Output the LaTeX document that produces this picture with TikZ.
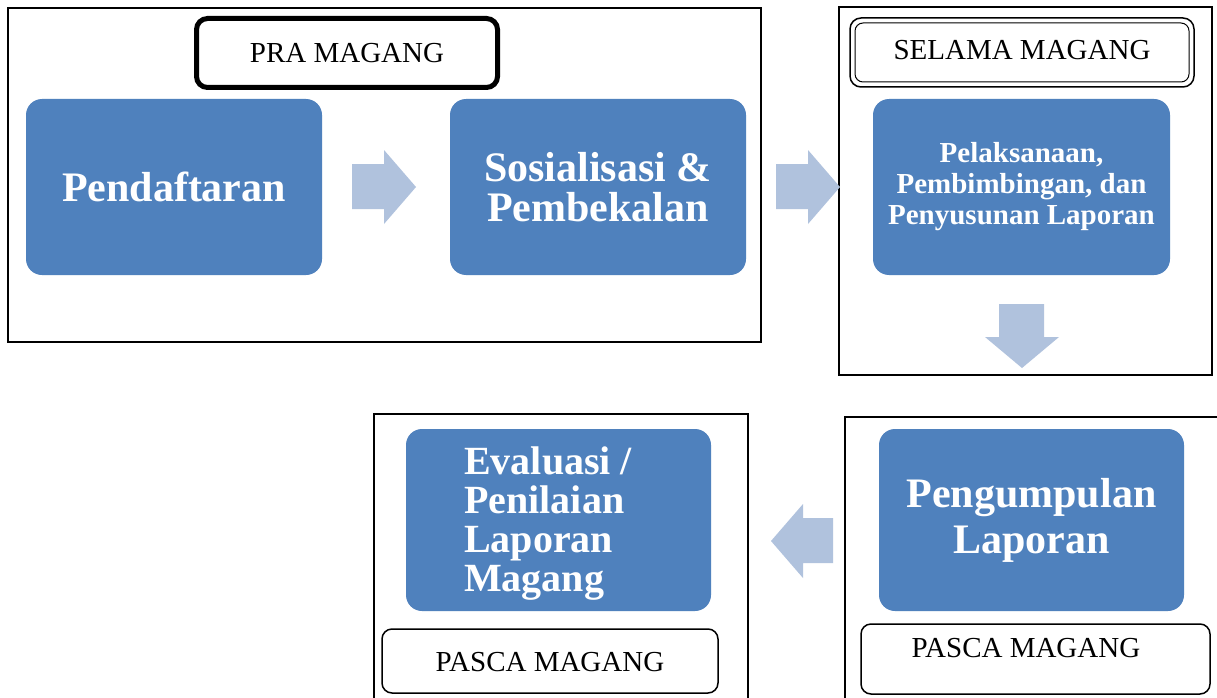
\documentclass[tikz,border=0pt]{standalone}
\usepackage{fontspec}
\setmainfont{Liberation Serif}
\definecolor{boxblue}{RGB}{79,129,189}
\definecolor{arrowblue}{RGB}{176,194,221}
\tikzset{
  frame/.style={draw=black,line width=2pt},
  stagebox/.style={draw=black,line width=1.5pt,rounded corners=10pt,fill=white,inner sep=0pt},
  bluebox/.style={fill=boxblue,rounded corners=16pt,text=white,inner sep=0pt,align=center},
  blockarrow/.style={fill=arrowblue,draw=none},
  lbl/.style={font=\fontsize{29}{31}\selectfont,text=black,inner sep=0pt}
}
\begin{document}
\begin{tikzpicture}[x=1pt,y=-1pt]
\useasboundingbox (0,0) rectangle (1217,698);
\fill[white] (0,0) rectangle (1217,698);
% frames
\draw[frame] (8,8) rectangle (761,342);
\draw[frame] (839,7) rectangle (1212,375);
\draw[frame] (374,698) -- (374,414) -- (748,414) -- (748,698);
\draw[frame] (845,698) -- (845,417) -- (1217,417);
% stage labels
\draw[line width=5pt,rounded corners=11pt] (196.5,18.5) rectangle (497.5,87.5);
\node[lbl] (pra) at (347,53) {PRA MAGANG};
\draw[line width=1.5pt,rounded corners=11pt] (850,18) rectangle (1194,87);
\draw[line width=1pt,rounded corners=8pt] (855,23) rectangle (1189,82);
\node[lbl] (selama) at (1022,50) {SELAMA MAGANG};
\draw[stagebox] (382,629) rectangle (718,693);
\node[lbl] (pasca1) at (550,662) {PASCA MAGANG};
\draw[stagebox] (861,624) rectangle (1210,694);
\node[lbl] (pasca2) at (1026,648) {PASCA MAGANG};
% blue boxes
\node[bluebox,minimum width=296pt,minimum height=176pt,font=\fontsize{42}{40}\selectfont\bfseries] (pend) at (174,187) {Pendaftaran};
\node[bluebox,minimum width=296pt,minimum height=176pt,font=\fontsize{42}{40}\selectfont\bfseries] (sos) at (598,187) {Sosialisasi \&\\Pembekalan};
\node[bluebox,minimum width=297pt,minimum height=176pt,font=\fontsize{29}{31}\selectfont\bfseries] (pel) at (1021.5,187) {Pelaksanaan,\\Pembimbingan, dan\\Penyusunan Laporan};
\node[bluebox,minimum width=305pt,minimum height=182pt] (eval) at (558.5,520) {};
\node[text=white,align=left,anchor=west,inner sep=0pt,font=\fontsize{40}{39}\selectfont\bfseries] (evaltxt) at (464,524) {Evaluasi /\\Penilaian\\Laporan\\Magang};
\node[bluebox,minimum width=305pt,minimum height=182pt,font=\fontsize{42}{46}\selectfont\bfseries] (peng) at (1031.5,520) {Pengumpulan\\Laporan};
% block arrows
\fill[blockarrow] (352,164) -- (384,164) -- (384,150) -- (416,187) -- (384,224) -- (384,209) -- (352,209) -- cycle;
\fill[blockarrow] (776,164) -- (808,164) -- (808,150) -- (840,187) -- (808,224) -- (808,209) -- (776,209) -- cycle;
\fill[blockarrow] (999,304) -- (1044,304) -- (1044,337) -- (1059,337) -- (1022,368) -- (985,337) -- (999,337) -- cycle;
\fill[blockarrow] (833,518) -- (803,518) -- (803,504) -- (771,541) -- (803,578) -- (803,563) -- (833,563) -- cycle;
\end{tikzpicture}
\end{document}
